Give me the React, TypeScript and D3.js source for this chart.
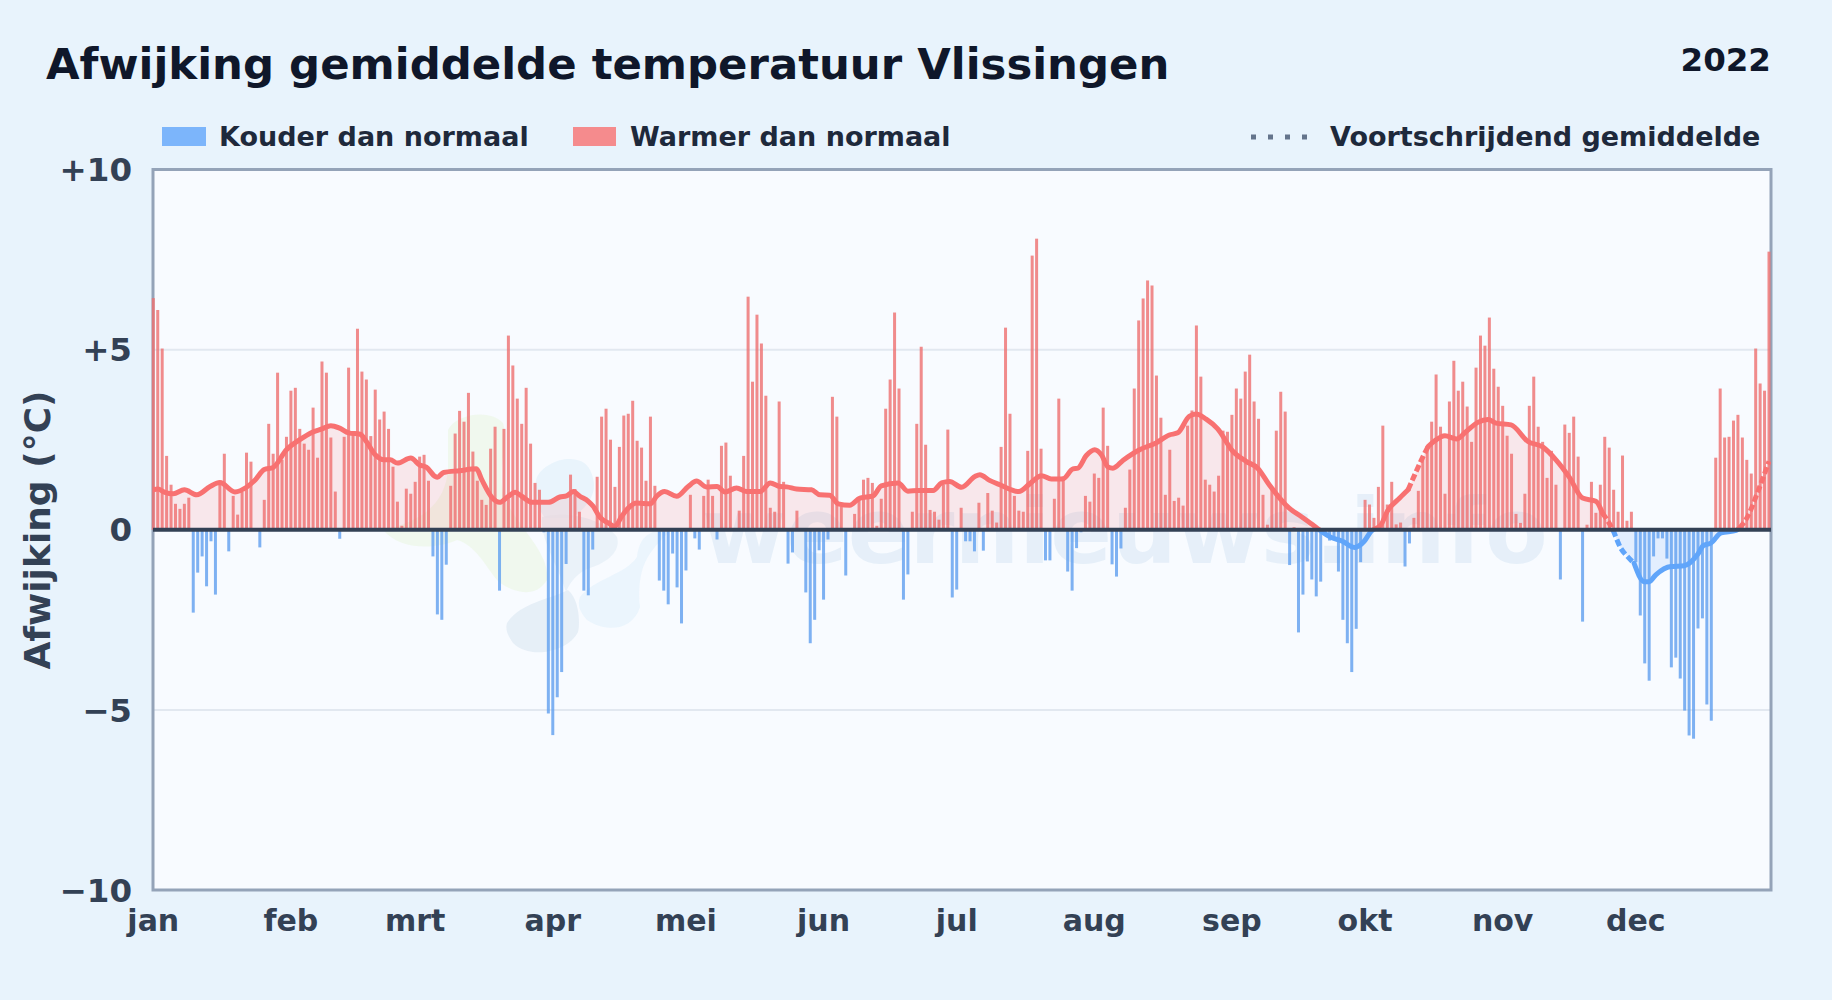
import React from "react";
import * as d3 from "d3";

const WIDTH = 1832;
const HEIGHT = 1000;

const monthLabels = ["jan", "feb", "mrt", "apr", "mei", "jun", "jul", "aug", "sep", "okt", "nov", "dec"];
const monthStarts = [0, 31, 59, 90, 120, 151, 181, 212, 243, 273, 304, 334];
const yTicks = [10, 5, 0, -5, -10];
const yTickLabels = ["+10", "+5", "0", "\u22125", "\u221210"];

const dailyAnomaly = [
  6.43, 6.1, 5.03, 2.05, 1.25, 0.72, 0.58, 0.72, 0.89, -2.3,
  -1.19, -0.74, -1.57, -0.32, -1.8, 1.36, 2.11, -0.6, 0.94, 0.42,
  1.05, 2.14, 1.89, 0, -0.49, 0.83, 2.94, 2.11, 4.36, 1.94,
  2.58, 3.86, 3.94, 2.8, 2.39, 2.22, 3.39, 2.0, 4.67, 4.36,
  2.56, 1.06, -0.25, 2.58, 4.5, 2.69, 5.58, 4.39, 4.17, 2.6,
  3.89, 3.06, 3.28, 2.8, 1.75, 0.78, 0.11, 1.14, 1.0, 1.33,
  2.03, 2.08, 1.36, -0.74, -2.35, -2.5, -0.97, 1.22, 2.67, 3.3,
  3.0, 3.8, 2.17, 1.36, 0.83, 0.69, 2.25, 2.86, -1.69, 2.8,
  5.39, 4.56, 3.64, 2.94, 3.94, 2.39, 1.3, 1.11, -0.07, -5.1,
  -5.7, -4.65, -3.95, -0.95, 1.53, 1.13, 0.5, -1.69, -1.82, -0.55,
  1.47, 3.14, 3.36, 2.5, 1.19, 2.3, 3.17, 3.22, 3.58, 2.47,
  2.28, 1.36, 3.14, 1.22, -1.41, -1.69, -2.07, -0.66, -1.6, -2.6,
  -1.13, 0.97, -0.24, -0.55, 0.94, 1.39, 0.94, -0.27, 2.33, 2.42,
  1.5, 0, 0.53, 2.05, 6.47, 4.11, 5.97, 5.17, 3.72, 0.61,
  0.5, 3.56, 1.33, -0.94, -0.63, 0.53, 0, -1.74, -3.15, -2.5,
  -0.57, -1.94, -0.27, 3.69, 3.14, 0.65, -1.27, 0, 0.44, 0.83,
  1.39, 1.44, 1.3, 0.11, 0.86, 3.36, 4.17, 6.03, 3.92, -1.94,
  -1.24, 0.5, 2.94, 5.08, 2.36, 0.55, 0.5, 0.28, 1.25, 2.78,
  -1.88, -1.66, 0.61, -0.32, -0.32, -0.6, 0.75, -0.58, 1.02, 0.53,
  0.2, 2.3, 5.61, 3.22, 0.94, 0.53, 0.5, 2.19, 7.61, 8.08,
  2.25, -0.85, -0.85, 0.86, 3.64, 1.48, -1.16, -1.69, -0.51, -0.07,
  0.94, 0.78, 1.56, 1.44, 3.39, 2.33, -0.96, -1.3, -0.52, 0.61,
  1.67, 3.92, 5.81, 6.42, 6.92, 6.78, 4.28, 3.11, 0.97, 2.22,
  0.8, 0.89, 0.67, 2.89, 3.31, 5.67, 4.25, 1.39, 1.25, 1.06,
  1.5, 2.75, 2.72, 3.19, 3.92, 3.64, 4.39, 4.86, 3.56, 3.08,
  0.97, 0.14, 1.1, 2.75, 3.83, 3.28, -0.98, 0.07, -2.85, -1.8,
  -0.88, -1.38, -1.85, -1.44, -0.1, -0.3, -0.2, -1.16, -2.5, -3.15,
  -3.95, -2.75, -0.9, 0.83, 0.7, 0.33, 1.19, 2.89, 0.7, 1.33,
  0.15, 0.2, -1.02, -0.38, 0.33, 1.08, 2.04, 2.31, 3.0, 4.31,
  2.86, 1.0, 3.56, 4.69, 3.86, 4.11, 3.42, 2.44, 4.5, 5.39,
  5.11, 5.89, 4.47, 3.97, 3.44, 2.61, 2.11, 0.44, 0.19, 1.0,
  3.44, 4.25, 2.86, 2.44, 1.44, 2.19, 1.25, -1.38, 2.92, 2.69,
  3.14, 2.03, -2.55, 0.14, 1.33, 0.47, 1.25, 2.58, 2.28, 1.11,
  0.5, 2.06, 0.25, 0.5, -0.9, -2.38, -3.71, -4.19, -0.74, -0.24,
  -0.24, -0.8, -3.82, -3.55, -4.13, -5.02, -5.71, -5.8, -2.74, -2.46,
  -4.85, -5.3, 2.0, 3.92, 2.56, 2.58, 3.03, 3.19, 2.56, 1.94,
  1.56, 5.03, 4.06, 3.86, 7.72,
];

const maDays = [
  0, 1, 2.6, 4.5, 7, 9.8, 12.8, 15, 18.4, 21, 23, 25, 27, 30, 33, 35.7, 38, 40, 42, 44, 46.6, 48, 50, 52, 53.4, 55, 58, 60, 61.5, 63.5, 64, 65.4, 69, 72.8, 74, 76.4, 78, 80, 81.5, 83, 85.3, 89,
  91.6, 93.1, 94.6, 96.1, 98, 99.1, 100.6, 102.5, 104, 105.5, 107, 108.9, 112, 113.4, 115.2, 117.9, 120.5, 122.4, 124.6, 127, 128.8, 131.4, 133.7, 136.7, 139, 141.2, 142.7, 144.9, 148.3, 150.2, 152.4, 154.3, 156.9, 159.2, 162.2, 164, 167.8, 170, 172.3, 175.7, 177.6, 179.4, 182.1, 185.1,
  186.2, 188.4, 190.7, 195, 197.5, 200.1, 202.3, 204.9, 207.2, 208.3, 210.2, 212.1, 213.6, 215.1, 216.2, 218.5, 222.2, 225.9, 228.9, 230.8, 233.4, 234.9, 237.2, 239.8, 243.2, 246.2, 248.8, 251.4, 255.9, 258.6, 261.2, 262.7, 265, 267.9, 270.6, 272.8, 274.3, 276.6, 278,
  280.8, 282.7, 284.2, 285.7, 287.2, 288.7, 291, 293.6, 295.8, 298.4, 300.7, 302.5, 305.9, 309.7, 313, 316, 319, 322, 325, 326.5, 328.8, 330.6, 332.1, 333.6, 335.9, 337, 338.5, 341.9, 344.9, 347.9, 349.2, 350.9, 353.2, 356.6, 357.4, 359.2, 361.5, 364,
];
const maValues = [
  1.11, 1.13, 1.04, 1.0, 1.11, 0.97, 1.2, 1.31, 1.05, 1.18, 1.39, 1.67, 1.73, 2.22, 2.5, 2.7, 2.8, 2.89, 2.82, 2.69, 2.65, 2.45, 2.08, 1.94, 1.94, 1.85, 1.99, 1.8, 1.74, 1.48, 1.46, 1.59, 1.64, 1.69, 1.39, 0.88, 0.76, 0.93, 1.04, 0.93, 0.76, 0.76,
  0.91, 0.94, 1.06, 0.93, 0.79, 0.65, 0.35, 0.19, 0.09, 0.37, 0.6, 0.74, 0.72, 0.93, 1.06, 0.93, 1.2, 1.35, 1.19, 1.2, 1.05, 1.16, 1.06, 1.06, 1.3, 1.2, 1.19, 1.13, 1.11, 0.97, 0.96, 0.72, 0.68, 0.88, 0.94, 1.22, 1.3, 1.07, 1.09, 1.09, 1.3, 1.34, 1.18, 1.48,
  1.53, 1.37, 1.25, 1.06, 1.28, 1.5, 1.41, 1.41, 1.69, 1.71, 2.06, 2.22, 2.08, 1.74, 1.71, 1.93, 2.22, 2.41, 2.63, 2.69, 3.15, 3.21, 3.07, 2.8, 2.18, 1.9, 1.71, 1.25, 0.6, 0.37, 0.14, 0, -0.19, -0.32, -0.49, -0.32, -0.05, 0.14, 0.51,
  0.88, 1.11, 1.53, 1.94, 2.31, 2.47, 2.61, 2.52, 2.73, 2.98, 3.06, 2.96, 2.91, 2.45, 2.3, 1.94, 1.46, 0.88, 0.79, 0.46, 0, -0.51, -0.74, -0.93, -1.44, -1.44, -1.25, -1.02, -1.0, -0.69, -0.44, -0.37, -0.09, -0.02, 0.05, 0.37, 1.06, 1.9,
];
const maDashedRanges = [
  [284.2, 287.2],
  [328.8, 333.6],
  [359.2, 364],
];

const COLD = "#60a5fa";
const WARM = "#f87171";
const COLD_BAR = "#5f9fef";
const WARM_BAR = "#ee6f6f";
const M = { left: 153, right: 1771, top: 169.5, bottom: 890 };
const FONT = "'DejaVu Sans', sans-serif";

export default function App() {
  const x = d3.scaleLinear().domain([0, 364]).range([153.3, 1769]);
  const y = d3.scaleLinear().domain([-10, 10]).range([M.bottom, M.top]);
  const barW = 3;

  const points = maDays.map((d, i) => ({ d, v: maValues[i] }));
  const lineGen = d3
    .line<{ d: number; v: number }>()
    .x((p) => x(p.d))
    .y((p) => y(p.v))
    .curve(d3.curveMonotoneX);
  const areaGen = d3
    .area<{ d: number; v: number }>()
    .x((p) => x(p.d))
    .y0(y(0))
    .y1((p) => y(p.v))
    .curve(d3.curveMonotoneX);

  const isDashed = (d: number) => maDashedRanges.some(([a, b]) => d >= a && d <= b);
  const segments: { dashed: boolean; pts: { d: number; v: number }[] }[] = [];
  points.forEach((p, i) => {
    const dashed = isDashed(p.d);
    const last = segments[segments.length - 1];
    if (!last || last.dashed !== dashed) {
      const pts = i > 0 ? [points[i - 1], p] : [p];
      segments.push({ dashed, pts });
    } else last.pts.push(p);
  });

  const maLayers = (color: string) => (
    <>
      <path d={areaGen(points) || ""} fill={color} opacity={0.14} />
      {segments.map((s, i) => (
        <path
          key={i}
          d={lineGen(s.pts) || ""}
          fill="none"
          stroke={color}
          strokeWidth={5}
          strokeLinejoin="round"
          strokeLinecap={s.dashed ? "butt" : "round"}
          strokeDasharray={s.dashed ? "7 3" : undefined}
        />
      ))}
    </>
  );

  return (
    <div style={{ position: "absolute", left: 0, top: 0, width: WIDTH, height: HEIGHT, overflow: "hidden" }}>
      <svg width={WIDTH} height={HEIGHT} style={{ display: "block" }} fontFamily={FONT}>
        <defs>
          <clipPath id="plot"><rect x={M.left - 2} y={M.top} width={M.right - M.left + 2} height={M.bottom - M.top} /></clipPath>
          <clipPath id="above"><rect x={M.left} y={M.top} width={M.right - M.left} height={y(0) - M.top} /></clipPath>
          <clipPath id="below"><rect x={M.left} y={y(0)} width={M.right - M.left} height={M.bottom - y(0)} /></clipPath>
        </defs>
        <rect width={WIDTH} height={HEIGHT} fill="#e8f3fc" />
        <rect x={M.left} y={M.top} width={M.right - M.left} height={M.bottom - M.top} fill="#f8fbff" />

        {/* watermark */}
        <g clipPath="url(#plot)">
          <path d="M448 430 C455 414 490 408 503 423 C510 445 495 470 505 500 C525 535 550 555 547 580 C535 600 510 592 497 580 C485 565 475 545 457 540 C435 550 400 550 383 530 C420 522 445 505 448 470 Z" fill="#eef7ea" opacity={0.8} />
          <path d="M537 477 C545 460 580 450 590 470 C600 490 590 505 572 518 L545 518 C535 505 533 490 537 477 Z" fill="#e7f3fc" opacity={0.9} />
          <path d="M507 623 C520 603 548 600 568 590 C580 600 580 625 578 632 C568 652 530 660 513 643 C508 636 505 630 507 623 Z" fill="#e3ecf6" opacity={0.85} />
          <path d="M580 597 C595 578 625 575 637 557 C640 535 650 530 670 530 C660 545 635 555 640 607 C632 632 605 632 587 620 C580 612 577 605 580 597 Z" fill="#e9f4fd" opacity={0.9} />
          <path d="M542 517 C570 510 605 520 617 537 C622 555 600 565 590 568 C578 572 570 582 566 592 C558 565 540 540 542 517 Z" fill="#e6eff7" opacity={0.75} />
          <text x={702} y={563} fontSize={91} fontWeight="bold" fill="#e3eef9" opacity={0.85}>weernieuws.info</text>
        </g>

        {/* grid */}
        {yTicks.filter((t) => Math.abs(t) === 5).map((t) => (
          <line key={t} x1={M.left} x2={M.right} y1={y(t)} y2={y(t)} stroke="#e2e8f0" strokeWidth={2} />
        ))}

        {/* frame */}
        <rect x={M.left} y={M.top} width={M.right - M.left} height={M.bottom - M.top} fill="none" stroke="#94a3b8" strokeWidth={3} />

        {/* bars */}
        <g clipPath="url(#plot)">
          {dailyAnomaly.map((v, i) =>
            v === 0 ? null : (
              <rect
                key={i}
                x={x(i) - barW / 2}
                width={barW}
                y={v > 0 ? y(v) : y(0)}
                height={Math.abs(y(v) - y(0))}
                fill={v > 0 ? WARM_BAR : COLD_BAR}
                opacity={0.8}
              />
            )
          )}
        </g>

        {/* moving average */}
        <g clipPath="url(#above)">{maLayers(WARM)}</g>
        <g clipPath="url(#below)">{maLayers(COLD)}</g>

        {/* zero line */}
        <line x1={M.left} x2={M.right} y1={y(0)} y2={y(0)} stroke="#334155" strokeWidth={4} />

        {/* y ticks */}
        {yTicks.map((t, i) => (
          <text key={t} x={132} y={y(t)} dy="0.36em" textAnchor="end" fontSize={32.5} fontWeight="bold" fill="#334155">
            {yTickLabels[i]}
          </text>
        ))}
        <text transform={`translate(50,530) rotate(-90)`} textAnchor="middle" fontSize={36} fontWeight="bold" fill="#334155">
          Afwijking (°C)
        </text>

        {/* x ticks */}
        {monthLabels.map((m, i) => (
          <text key={m} x={x(monthStarts[i])} y={931} textAnchor="middle" fontSize={30} fontWeight="bold" fill="#334155">
            {m}
          </text>
        ))}

        {/* title */}
        <text x={46} y={79} fontSize={43.4} fontWeight="bold" fill="#0f172a">
          Afwijking gemiddelde temperatuur Vlissingen
        </text>
        <text x={1771} y={71} textAnchor="end" fontSize={32.5} fontWeight="bold" fill="#0f172a">
          2022
        </text>

        {/* legend */}
        <rect x={162} y={127} width={44} height={19} fill={COLD} opacity={0.8} />
        <text x={219} y={146} fontSize={27} fontWeight="bold" fill="#1e293b">Kouder dan normaal</text>
        <rect x={573} y={127} width={43} height={19} fill={WARM} opacity={0.8} />
        <text x={630} y={146} fontSize={27} fontWeight="bold" fill="#1e293b">Warmer dan normaal</text>
        <line x1={1251} x2={1308} y1={137} y2={137} stroke="#64748b" strokeWidth={5} strokeDasharray="5 12" />
        <text x={1330} y={146} fontSize={27} fontWeight="bold" fill="#1e293b">Voortschrijdend gemiddelde</text>
      </svg>
    </div>
  );
}
